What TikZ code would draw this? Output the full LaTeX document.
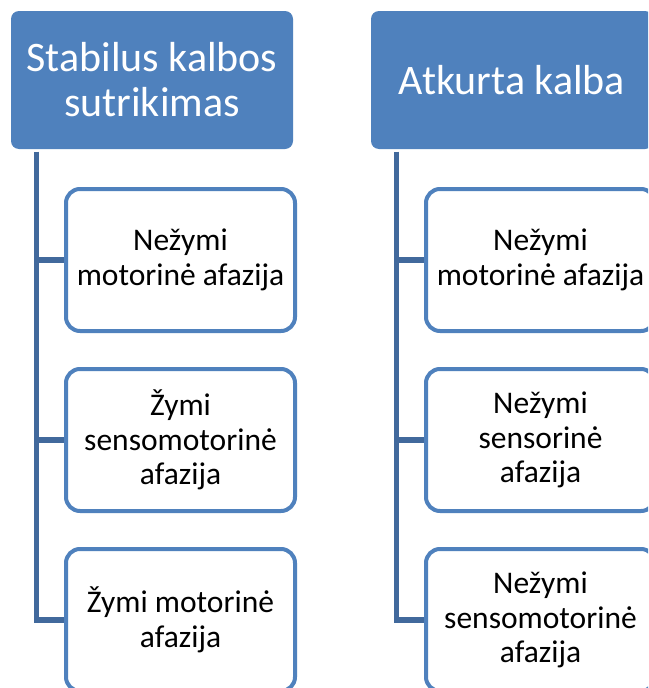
\documentclass[tikz,border=0pt]{standalone}
\usepackage{fontspec}
\setmainfont{Carlito}
\definecolor{accent}{HTML}{4F81BD}
\definecolor{linkblue}{HTML}{41699C}
\tikzset{
  headbox/.style={draw=none, fill=accent, rounded corners=8pt, minimum width=282pt,
    minimum height=138pt, inner sep=0pt, text=white, align=center,
    font=\fontsize{42}{45}\selectfont},
  itembox/.style={draw=accent, line width=4pt, fill=white, rounded corners=14pt,
    minimum width=229pt, minimum height=142pt, inner sep=0pt, align=center,
    font=\fontsize{31.5}{34.5}\selectfont},
  link/.style={draw=linkblue, line width=5.5pt}
}
\begin{document}
\begin{tikzpicture}[x=1pt,y=-1pt]
  \useasboundingbox (0,0) rectangle (648,688);
  \clip (0,0) rectangle (648,688);
  \fill[white] (0,0) rectangle (648,688);

  % left column
  \node[headbox] (h1) at (152,80) {Stabilus kalbos\\sutrikimas};
  \node[itembox] (a1) at (180.5,260) {Nežymi\\motorinė afazija};
  \node[itembox] (a2) at (180.5,440) {Žymi\\sensomotorinė\\afazija};
  \node[itembox] (a3) at (180.5,620) {Žymi motorinė\\afazija};
  \coordinate (t1) at (36.3,151.5);
  \draw[link] (t1) |- (a3.west);
  \draw[link] (t1 |- a1.west) -- (a1.west);
  \draw[link] (t1 |- a2.west) -- (a2.west);

  % right column
  \node[headbox] (h2) at (512,80) {Atkurta kalba};
  \node[itembox] (b1) at (540.5,260) {Nežymi\\motorinė afazija};
  \node[itembox] (b2) at (540.5,440) {Nežymi\\sensorinė\\afazija};
  \node[itembox] (b3) at (540.5,620) {Nežymi\\sensomotorinė\\afazija};
  \coordinate (t2) at (396.3,151.5);
  \draw[link] (t2) |- (b3.west);
  \draw[link] (t2 |- b1.west) -- (b1.west);
  \draw[link] (t2 |- b2.west) -- (b2.west);
\end{tikzpicture}
\end{document}
